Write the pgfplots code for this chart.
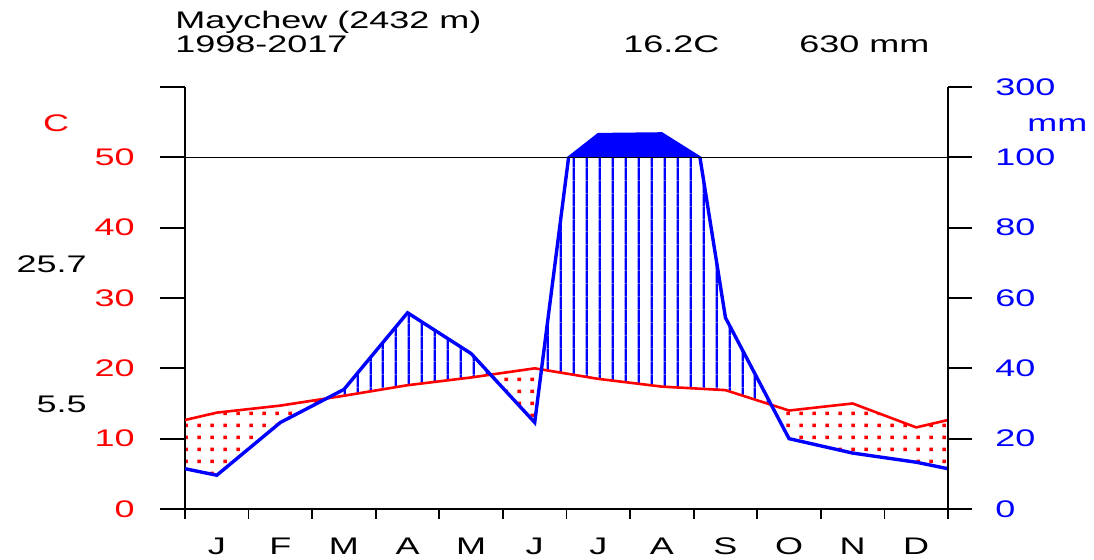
\documentclass[border=0pt]{standalone}
\usepackage{fontspec}
\setmainfont{Liberation Sans}[FakeStretch=1.5]
\usepackage{pgfplots}
\usepackage{pgfplotstable}
\pgfplotsset{compat=1.18}
\usepgfplotslibrary{fillbetween}
\usetikzlibrary{patterns.meta}

% Monthly means at mid-month (x = 0.5 ... 11.5); the ends carry the Dec/Jan average.
% t: mean temperature (C), p: precipitation (mm)
\pgfplotstableread{
x     t      p
0     12.65  11.45
0.5   13.7   9.6
1.5   14.7   24.6
2.5   16.1   34.0
3.5   17.6   55.8
4.5   18.7   44.2
5.5   20.0   24.6
6.5   18.5   166.0
7.5   17.4   168.0
8.5   16.9   54.4
9.5   14.0   20.0
10.5  15.0   15.9
11.5  11.6   13.3
12    12.65  11.45
}\climate

% dotted fill for the dry season
\tikzdeclarepattern{
  name=drydots, type=uncolored,
  bounding box={(0,0) and (6.4pt,5.8pt)},
  tile size={(6.4pt,5.8pt)},
  code={\fill (2.7pt,2.0pt) rectangle (4.5pt,3.8pt);}
}

\newcommand{\lbl}{\fontsize{12}{14}\selectfont}

\pgfplotsset{
  climbase/.style={
    scale only axis, width=381.5pt, xmin=0, xmax=12,
    anchor=south west,
    /pgf/number format/assume math mode=true,
    every tick label/.append style={font=\lbl},
  },
}

\begin{document}
\begin{tikzpicture}

% left temperature axis
\begin{axis}[climbase, at={(92.5pt,25.5pt)}, height=211pt, ymin=0, ymax=60,
  axis x line=none, axis y line*=left,
  y axis line style={line width=0.9pt, black},
  ytick={0,10,20,30,40,50,60}, yticklabels={0,10,20,30,40,50,{}},
  tick align=outside, major tick length=12.5pt,
  tick style={line width=0.9pt, black},
  yticklabel style={red, anchor=east, inner sep=0pt, xshift=-12.5pt},
]
\end{axis}

% bottom month axis
\begin{axis}[climbase, at={(92.5pt,25.5pt)}, height=211pt, ymin=0, ymax=60,
  axis y line=none, axis x line*=bottom,
  x axis line style={line width=0.9pt, black},
  xtick={0.5,1.5,...,11.5}, xticklabels={J,F,M,A,M,J,J,A,S,O,N,D},
  minor xtick={0,1,...,12},
  tick align=outside, major tick length=0pt, minor tick length=5pt,
  tick style={line width=0.9pt, black},
  xticklabel style={anchor=base, inner sep=0pt, yshift=-23pt},
]
\end{axis}

% humid / dry areas below 100 mm
\begin{axis}[climbase, at={(92.5pt,25.5pt)}, height=175.833pt, ymin=0, ymax=50,
  axis lines=none, clip=true, set layers]
\addplot[name path=T, red, line width=1.3pt] table[x=x, y=t] {\climate};
\addplot[name path=P, blue, line width=1.7pt] table[x=x, y expr=\thisrow{p}/2] {\climate};
\addplot[pattern=drydots, pattern color=red] fill between[of=P and T, split,
  every odd segment/.style={pattern={Lines[angle=90, distance=6.4pt, line width=1.1pt]}, pattern color=blue}];
\end{axis}

% precipitation above 100 mm, compressed scale
\begin{axis}[climbase, at={(92.5pt,201.333pt)}, height=35.167pt, ymin=50, ymax=60,
  axis lines=none, clip=true]
\addplot[name path=Q, blue, line width=1.2pt] table[x=x, y expr=50+(\thisrow{p}-100)/20] {\climate};
\addplot[name path=B, draw=none] table[x=x, y expr=40] {\climate};
\addplot[blue] fill between[of=Q and B];
\end{axis}

% right precipitation axis and the 100 mm line
\begin{axis}[climbase, at={(92.5pt,25.5pt)}, height=211pt, ymin=0, ymax=60,
  axis x line=none, axis y line*=right,
  y axis line style={line width=0.9pt, black},
  ytick={0,10,20,30,40,50,60}, yticklabels={0,20,40,60,80,100,300},
  tick align=outside, major tick length=12pt,
  tick style={line width=0.9pt, black},
  yticklabel style={blue, anchor=west, inner sep=0pt, xshift=11.5pt},
]
\addplot[black, line width=0.7pt] coordinates {(0,50) (12,50)};
\end{axis}

% header and extreme temperatures
\begin{scope}[every node/.style={inner sep=0pt, font=\lbl}]
\node[anchor=base west] at (87.5pt,265.5pt) {Maychew (2432 m)};
\node[anchor=base west] at (87.5pt,253.5pt) {1998-2017};
\node[anchor=base west] at (311.5pt,253.5pt) {16.2C};
\node[anchor=base west] at (399.5pt,253.5pt) {630 mm};
\node[anchor=base, red] at (28pt,214pt) {C};
\node[anchor=base west, blue] at (513.5pt,214pt) {mm};
\node[anchor=base east] at (43.5pt,143.5pt) {25.7};
\node[anchor=base east] at (43.5pt,73.5pt) {5.5};
\end{scope}

\pgfresetboundingbox
\path[use as bounding box] (0,0) rectangle (547pt,280pt);
\end{tikzpicture}
\end{document}
